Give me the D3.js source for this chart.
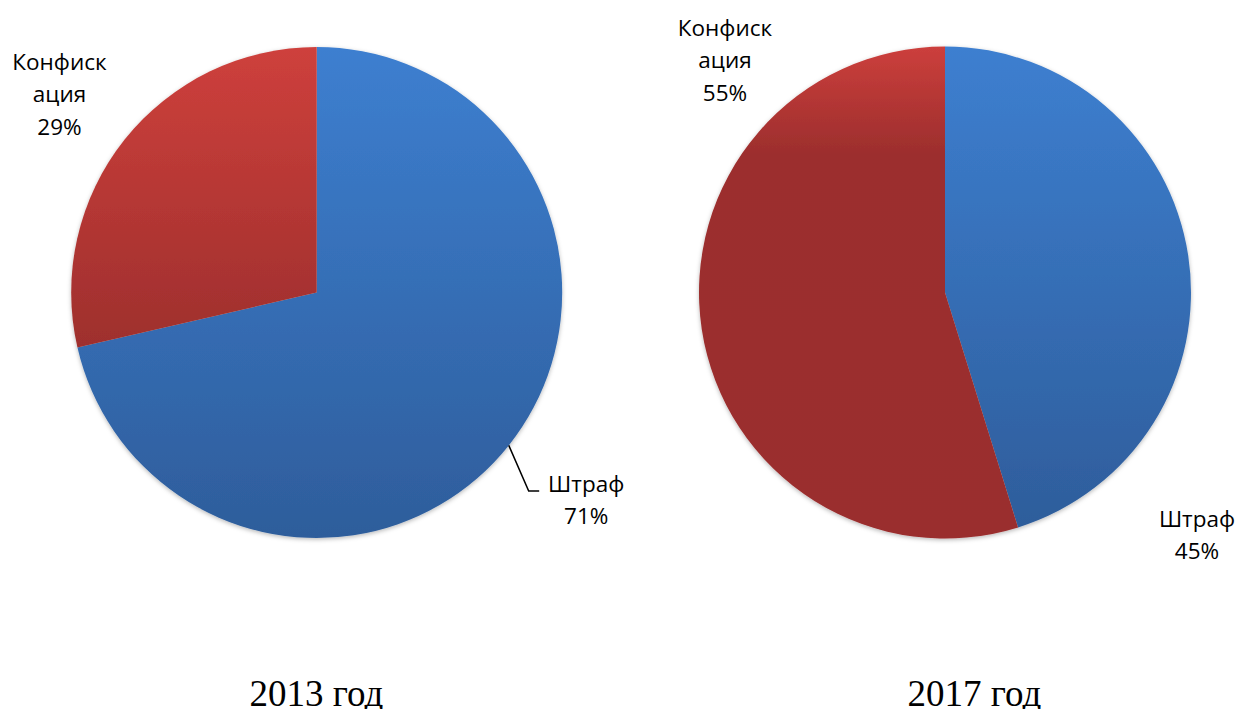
<!DOCTYPE html>
<html>
<head>
<meta charset="utf-8">
<script src="https://cdn.jsdelivr.net/npm/d3@7"></script>
<style>
  html, body { margin: 0; padding: 0; background: #ffffff; }
  svg { display: block; }
</style>
</head>
<body>
<svg id="chart" width="1237" height="709"></svg>
<script>
// ---- data ----
const categories = ["Штраф", "Конфискация"];
const labelLines = [["Штраф"], ["Конфиск", "ация"]];
const years = ["2013 год", "2017 год"];
const shares2013 = [71.4, 28.6];
const shares2017 = [45.2, 54.8];

// ---- layout ----
const svg = d3.select("#chart");
const defs = svg.append("defs");

const shadow = defs.append("filter").attr("id", "shadow")
  .attr("x", "-10%").attr("y", "-10%").attr("width", "120%").attr("height", "120%");
shadow.append("feDropShadow").attr("dx", 0).attr("dy", 1.5)
  .attr("stdDeviation", 2.2).attr("flood-color", "#000").attr("flood-opacity", 0.28);

function grad(id, stops) {
  const g = defs.append("linearGradient").attr("id", id)
    .attr("x1", 0).attr("y1", 0).attr("x2", 0).attr("y2", 1);
  stops.forEach(s => g.append("stop").attr("offset", s[0]).attr("stop-color", s[1]));
}
grad("blueA", [[0, "#3d7fd0"], [1, "#2e5d9b"]]);
grad("redA", [[0, "#ce403c"], [1, "#9e2f2d"]]);
grad("blueB", [[0, "#3d7fd0"], [1, "#2e5d9b"]]);
grad("redB", [[0, "#cc3f3c"], [0.22, "#9c2e2d"], [1, "#9a2d2d"]]);

const pies = [
  { values: shares2013, year: years[0], cx: 316.7, cy: 292.5, r: 245.5, fills: ["url(#blueA)", "url(#redA)"], titleX: 316.5,
    labels: [
      { dx: 269.5, dy: 199.5, leader: true },
      { dx: -257.2, dy: -222.5 }
    ] },
  { values: shares2017, year: years[1], cx: 945, cy: 292.5, r: 246, fills: ["url(#blueB)", "url(#redB)"], titleX: 974.5,
    labels: [
      { dx: 252, dy: 234.5 },
      { dx: -220, dy: -256.5 }
    ] }
];

const pie = d3.pie().sort(null).value(d => d);
const fmt = v => d3.format(".0f")(v) + "%";
const labelFont = "'Open Sans', 'Noto Sans', sans-serif";

pies.forEach(p => {
  const g = svg.append("g").attr("transform", `translate(${p.cx},${p.cy})`);
  const arc = d3.arc().innerRadius(0).outerRadius(p.r);
  const arcs = pie(p.values);

  const sg = g.append("g").attr("filter", "url(#shadow)");
  sg.selectAll("path").data(arcs).join("path")
    .attr("d", arc)
    .attr("fill", (d, i) => p.fills[i]);

  arcs.forEach((a, i) => {
    const L = p.labels[i];
    const lines = labelLines[i].concat([fmt(a.data)]);
    const lineH = 32.3;
    const t = g.append("text")
      .attr("text-anchor", "middle")
      .attr("font-family", labelFont)
      .attr("font-size", 22.5)
      .attr("fill", "#000");
    lines.forEach((s, k) => {
      t.append("tspan").attr("x", L.dx).attr("y", L.dy + k * lineH).text(s);
    });
    if (L.leader) {
      const ang = (a.startAngle + a.endAngle) / 2;
      const ex = Math.sin(ang) * p.r, ey = -Math.cos(ang) * p.r;
      g.append("polyline")
        .attr("points", `${ex},${ey} ${212},${198.5} ${222.5},${198.5}`)
        .attr("fill", "none").attr("stroke", "#000").attr("stroke-width", 1.5);
    }
  });

  svg.append("text")
    .attr("x", p.titleX).attr("y", 706)
    .attr("text-anchor", "middle")
    .attr("font-family", "'Liberation Serif', 'Times New Roman', serif")
    .attr("font-size", 37)
    .attr("fill", "#000")
    .text(p.year);
});
</script>
</body>
</html>
